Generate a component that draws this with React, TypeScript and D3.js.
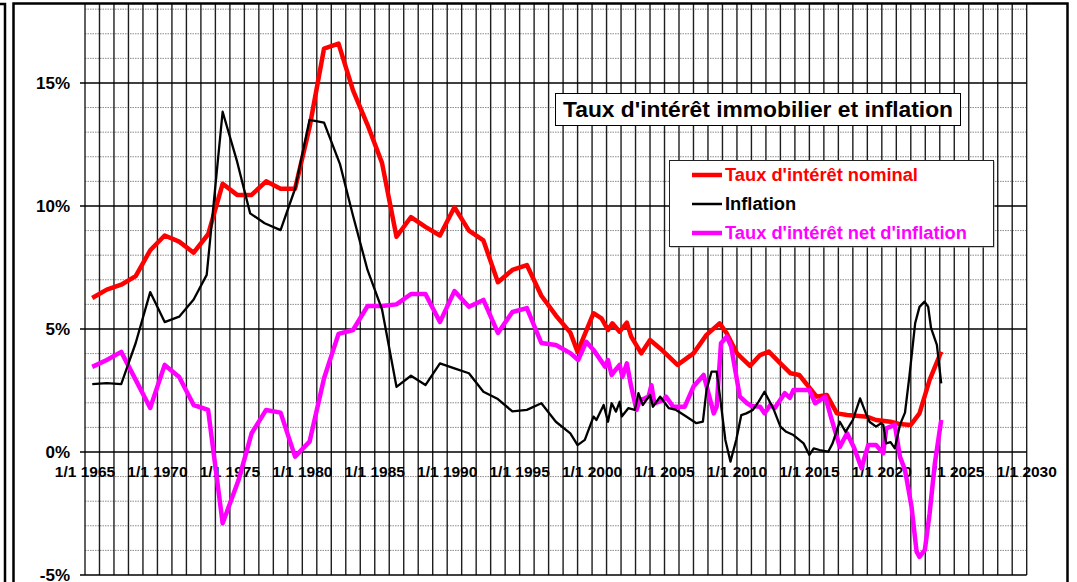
import React from 'react';
import * as d3 from 'd3';

// Taux d'intérêt nominal (%)
const nominalYears = [1965.5, 1966.5, 1967.5, 1968.5, 1969.5, 1970.5, 1971.5, 1972.5, 1973.5, 1974.5,
  1975.5, 1976.5, 1977.5, 1978.5, 1979.5, 1980.5, 1981.5, 1982.5, 1983.5, 1984.5,
  1985.5, 1986.5, 1987.5, 1988.5, 1989.5, 1990.5, 1991.5, 1992.5, 1993.5, 1994.5,
  1995.5, 1996.5, 1997.5, 1998.5, 1999.0, 2000.1, 2000.65, 2001.1, 2001.4, 2001.9,
  2002.4, 2002.7, 2003.4, 2004.0, 2004.7, 2005.9, 2007.0, 2007.9, 2008.8, 2009.3,
  2010.0, 2010.9, 2011.6, 2012.2, 2013.0, 2013.7, 2014.3, 2015.5, 2016.2, 2016.9,
  2017.6, 2019.0, 2019.6, 2020.6, 2021.2, 2022.0, 2022.6, 2023.3, 2024.1];
const nominalRates = [6.26, 6.6, 6.8, 7.15, 8.2, 8.8, 8.55, 8.1, 8.85, 10.9,
  10.45, 10.45, 11.0, 10.7, 10.7, 13.2, 16.4, 16.6, 14.7, 13.3,
  11.75, 8.75, 9.55, 9.15, 8.8, 9.95, 9.0, 8.6, 6.9, 7.4,
  7.6, 6.35, 5.55, 4.85, 4.07, 5.64, 5.43, 4.96, 5.23, 4.89,
  5.26, 4.69, 4.01, 4.55, 4.21, 3.54, 4.01, 4.76, 5.23, 4.82,
  4.01, 3.5, 3.94, 4.08, 3.6, 3.2, 3.13, 2.25, 2.32, 1.57,
  1.5, 1.43, 1.3, 1.23, 1.14, 1.1, 1.57, 2.93, 4.08];

// Inflation (%)
const inflationYears = [1965.5, 1966.5, 1967.5, 1968.5, 1969.5, 1970.5, 1971.5, 1972.5, 1973.4, 1974.5,
  1975.5, 1976.4, 1977.4, 1978.5, 1979.5, 1980.5, 1981.5, 1982.6, 1983.5, 1984.5,
  1985.5, 1986.5, 1987.5, 1988.5, 1989.5, 1990.5, 1991.5, 1992.5, 1993.5, 1994.5,
  1995.5, 1996.5, 1997.5, 1998.5, 1999.0, 1999.5, 2000.1, 2000.3, 2000.8, 2001.1,
  2001.35, 2001.65, 2001.9, 2002.05, 2002.5, 2002.95, 2003.2, 2003.5, 2004.0, 2004.2,
  2004.7, 2005.3, 2005.8, 2006.5, 2007.2, 2007.65, 2007.9, 2008.25, 2008.6, 2008.8,
  2009.2, 2009.55, 2009.95, 2010.3, 2010.65, 2011.1, 2011.5, 2011.9, 2012.5, 2013.0,
  2013.4, 2013.9, 2014.6, 2015.0, 2015.3, 2015.7, 2016.3, 2016.6, 2017.1, 2017.5,
  2018.0, 2018.5, 2018.9, 2019.15, 2019.6, 2019.95, 2020.1, 2020.3, 2020.6, 2020.9,
  2021.25, 2021.6, 2021.9, 2022.3, 2022.6, 2022.95, 2023.2, 2023.4, 2023.8, 2024.1];
const inflationRates = [2.76, 2.8, 2.76, 4.43, 6.5, 5.28, 5.5, 6.2, 7.2, 13.83,
  11.8, 9.7, 9.3, 9.02, 10.7, 13.5, 13.39, 11.7, 9.6, 7.4,
  5.8, 2.65, 3.1, 2.72, 3.6, 3.4, 3.2, 2.45, 2.15, 1.65,
  1.71, 1.98, 1.23, 0.76, 0.28, 0.49, 1.44, 1.3, 1.91, 1.23,
  1.98, 1.64, 2.04, 1.44, 1.78, 1.71, 2.39, 1.91, 2.32, 1.84,
  2.25, 1.78, 1.71, 1.44, 1.17, 1.23, 2.52, 3.27, 3.27, 2.39,
  0.49, -0.39, 0.49, 1.5, 1.57, 1.71, 2.05, 2.45, 1.78, 1.03,
  0.82, 0.69, 0.35, -0.12, 0.15, 0.08, 0.01, 0.35, 1.23, 0.82,
  1.3, 2.18, 1.57, 1.23, 1.03, 1.17, 1.1, 0.35, 0.4, 0.15,
  1.1, 1.6, 3.06, 5.23, 5.9, 6.11, 5.9, 5.03, 4.35, 2.79];

// Taux d'intérêt net d'inflation (%)
const netYears = [1965.5, 1966.5, 1967.5, 1968.5, 1969.5, 1970.5, 1971.5, 1972.5, 1973.5, 1974.5,
  1975.6, 1976.5, 1977.5, 1978.5, 1979.5, 1980.5, 1981.5, 1982.5, 1983.5, 1984.5,
  1985.5, 1986.5, 1987.5, 1988.5, 1989.5, 1990.5, 1991.5, 1992.5, 1993.5, 1994.5,
  1995.5, 1996.5, 1997.5, 1998.5, 1999.04, 1999.6, 2000.1, 2000.9, 2001.1, 2001.35,
  2001.7, 2001.9, 2002.1, 2002.4, 2002.7, 2003.07, 2003.3, 2003.65, 2003.9, 2004.1,
  2004.3, 2004.9, 2005.1, 2005.6, 2006.4, 2007.0, 2007.7, 2008.4, 2008.6, 2008.9,
  2009.3, 2009.6, 2010.2, 2010.7, 2011.0, 2011.6, 2011.9, 2012.3, 2012.6, 2013.3,
  2013.65, 2013.9, 2015.0, 2015.4, 2016.1, 2016.5, 2017.1, 2017.6, 2018.1, 2018.6,
  2019.06, 2019.6, 2020.1, 2020.3, 2020.9, 2021.25, 2021.6, 2022.05, 2022.4, 2022.6,
  2022.97, 2023.3, 2023.66, 2024.1];
const netRates = [3.46, 3.74, 4.07, 2.93, 1.79, 3.54, 3.05, 1.91, 1.71, -2.9,
  -1.14, 0.76, 1.71, 1.6, -0.19, 0.42, 3.0, 4.8, 4.96, 5.93,
  5.93, 6.0, 6.42, 6.42, 5.28, 6.54, 5.9, 6.18, 4.84, 5.69,
  5.85, 4.43, 4.35, 4.02, 3.74, 4.48, 4.15, 3.47, 3.74, 3.13,
  3.4, 3.54, 3.06, 3.6, 2.66, 1.71, 2.11, 2.18, 2.25, 2.72,
  1.98, 2.11, 2.25, 1.84, 1.84, 2.66, 3.13, 1.57, 1.84, 4.42,
  4.69, 4.28, 2.25, 1.98, 1.87, 1.84, 1.57, 1.91, 1.78, 2.39,
  2.2, 2.52, 2.52, 1.98, 2.25, 1.4, 0.21, 0.76, 0.15, -0.66,
  0.28, 0.28, -0.05, 0.96, 1.1, -0.19, -0.73, -2.22, -4.05, -4.26,
  -3.98, -2.49, -0.46, 1.3];

const axisYears = d3.range(1965, 2031, 5);
const yTickValues = [-5, 0, 5, 10, 15];

const W = 1077;
const H = 582;
const FONT = '"Liberation Sans", Arial, sans-serif';

function App() {
  const x = d3.scaleLinear().domain([1965, 2030]).range([85, 1026.7]);
  const y = d3.scaleLinear().domain([-5, 18.25]).range([575, 3]);

  const line = d3.line<[number, number]>()
    .x(d => x(d[0]))
    .y(d => y(d[1]));

  const nominal = nominalYears.map((v, i) => [v, nominalRates[i]] as [number, number]);
  const inflation = inflationYears.map((v, i) => [v, inflationRates[i]] as [number, number]);
  const net = netYears.map((v, i) => [v, netRates[i]] as [number, number]);

  const minorY = d3.range(-4, 19).filter(v => v % 5 !== 0);
  const allYears = d3.range(1965, 2031);

  const legend = [
    { label: "Taux d'intérêt nominal", color: '#ff0000', width: 4.5 },
    { label: 'Inflation', color: '#000000', width: 2.5 },
    { label: "Taux d'intérêt net d'inflation", color: '#ff00ff', width: 4.5 },
  ];

  return (
    <svg width={W} height={H} style={{ position: 'absolute', left: 0, top: 0, background: '#fff' }}
      fontFamily={FONT}>
      {/* minor horizontal grid */}
      {minorY.map(v => (
        <line key={'h' + v} x1={x(1965)} x2={x(2030)} y1={y(v)} y2={y(v)}
          stroke="#8a8a8a" strokeWidth={1} strokeDasharray="1.5,1" />
      ))}
      {/* vertical grid, one per year */}
      {allYears.map(v => (
        <line key={'v' + v} x1={x(v)} x2={x(v)} y1={3} y2={575}
          stroke="#1e1e1e" strokeWidth={1.4} />
      ))}
      {/* major horizontal grid with left ticks */}
      {yTickValues.map(v => (
        <line key={'H' + v} x1={80} x2={x(2030)} y1={y(v)} y2={y(v)}
          stroke="#000" strokeWidth={1.5} />
      ))}
      {yTickValues.map(v => (
        <text key={'yl' + v} x={70} y={y(v)} dy="0.36em" textAnchor="end"
          fontSize={17} fontWeight="bold">{v}%</text>
      ))}
      {axisYears.map(v => (
        <text key={'xl' + v} x={x(v)} y={y(0) + 25} textAnchor="middle"
          fontSize={15.5} fontWeight="bold">1/1 {v}</text>
      ))}

      {/* series */}
      <path d={line(nominal) || ''} fill="none" stroke="#ff0000" strokeWidth={4.5} strokeLinejoin="round" />
      <path d={line(net) || ''} fill="none" stroke="#ff00ff" strokeWidth={4.5} strokeLinejoin="round" />
      <path d={line(inflation) || ''} fill="none" stroke="#000" strokeWidth={2.3} strokeLinejoin="round" />

      {/* title */}
      <rect x={555.5} y={93.5} width={405} height={32} fill="#fff" stroke="#000" strokeWidth={1} />
      <text x={758} y={117.3} textAnchor="middle" fontSize={22.8} fontWeight="bold">
        Taux d'intérêt immobilier et inflation
      </text>

      {/* legend */}
      <rect x={670.5} y={161.5} width={324} height={86} fill="#999" />
      <rect x={669.5} y={160.5} width={324} height={86} fill="#fff" stroke="#222" strokeWidth={1} />
      {legend.map((d, i) => (
        <g key={d.label} transform={`translate(0, ${175 + i * 29})`}>
          <line x1={692} x2={722} y1={0} y2={0} stroke={d.color} strokeWidth={d.width} />
          <text x={725} y={6} fontSize={18.3} fontWeight="bold" fill={d.color}>{d.label}</text>
        </g>
      ))}

      {/* frames */}
      <path d="M0,4 H5 V582" fill="none" stroke="#000" strokeWidth={2.5} />
      <rect x={13.5} y={3.5} width={1054} height={620} fill="none" stroke="#000" strokeWidth={2.5} />
    </svg>
  );
}

export default App;
